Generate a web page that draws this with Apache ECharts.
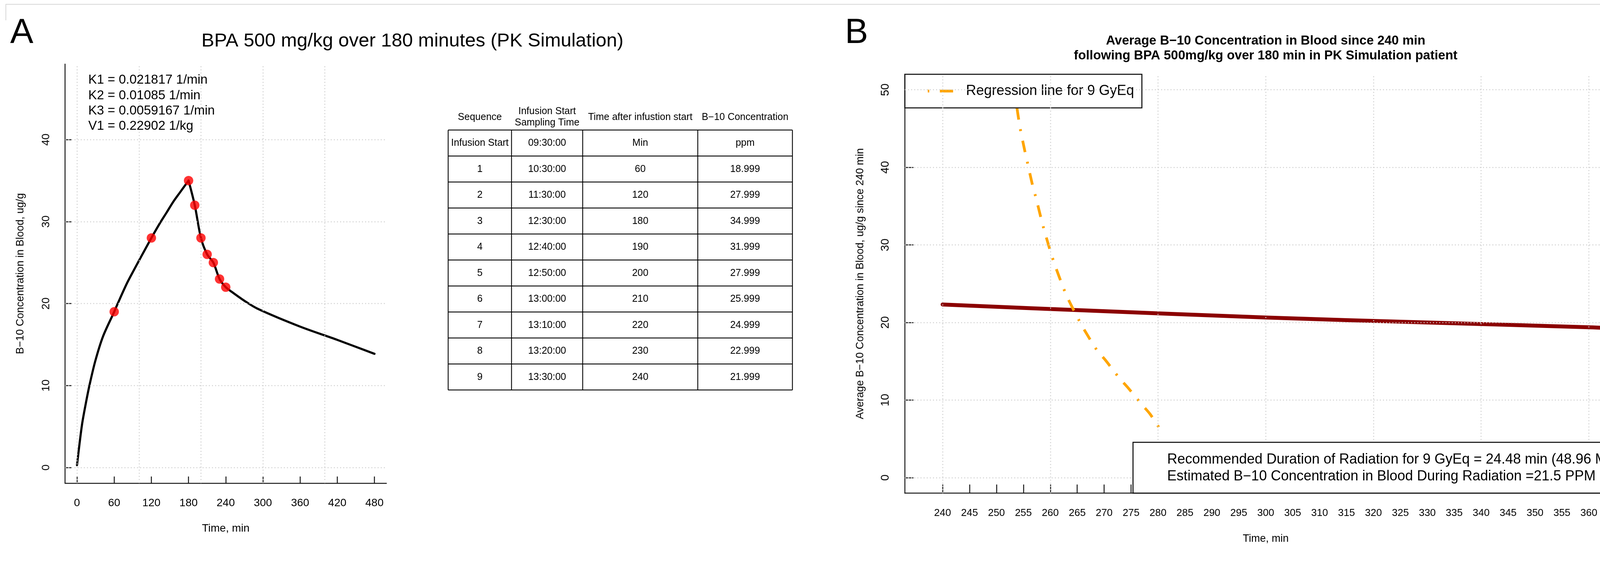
<!DOCTYPE html>
<html><head><meta charset="utf-8">
<script src="https://cdn.jsdelivr.net/npm/echarts@6/dist/echarts.min.js"></script>
<style>html,body{margin:0;padding:0;background:#fff;} #c{width:4240px;height:1494px;}</style>
</head><body><div id="c"></div>
<script>
const FONT = '"Liberation Sans", Arial, Helvetica, sans-serif';

// ---------- Panel A data ----------
const sampleSeq = ['1','2','3','4','5','6','7','8','9'];
const sampleClock = ['10:30:00','11:30:00','12:30:00','12:40:00','12:50:00','13:00:00','13:10:00','13:20:00','13:30:00'];
const sampleMin = [60,120,180,190,200,210,220,230,240];
const sampleConc = [18.999,27.999,34.999,31.999,27.999,25.999,24.999,22.999,21.999];
const riseT = [0, 8.0, 14.4, 20.0, 29.5, 42.0, 60, 65.7, 81.0, 92.6, 102.6, 120, 134.1, 144.7, 155.1, 165.7, 180];
const riseV = [0.3, 5.2, 7.9, 10.0, 13.0, 16.0, 19.0, 20.0, 22.54, 24.2, 25.6, 28.0, 29.85, 31.12, 32.39, 33.51, 35.0];
const fallT = [180, 190, 200, 210, 220, 230, 240, 249.7, 270.7, 291.7, 359.9, 419.6, 480];
const fallV = [35.0, 32.0, 28.0, 26.0, 25.0, 23.0, 22.0, 21.43, 20.31, 19.36, 17.19, 15.58, 13.87];
const paramLines = ['K1 = 0.021817 1/min','K2 = 0.01085 1/min','K3 = 0.0059167 1/min','V1 = 0.22902 1/kg'];
const xTicksA = [0,60,120,180,240,300,360,420,480];
const yTicksA = [0,10,20,30,40];
const xGridA = [0,100,200,300,400];
const tableHead = ['Sequence','Infusion Start\nSampling Time','Time after infustion start','B\u221210 Concentration'];
const tableUnits = ['Infusion Start','09:30:00','Min','ppm'];

// ---------- Panel B data ----------
const avgT = [240, 264.9, 300, 330, 360, 367];
const avgV = [22.32, 21.6, 20.64, 20.0, 19.38, 19.17];
const regT = [253.81, 254.39, 255.26, 255.75, 256.72, 257.30, 258.36, 258.94, 260.20, 260.87, 262.42, 263.28, 265.32, 266.38, 268.70, 270.15, 272.86, 274.31, 277.11, 278.56, 280.98];
const regV = [47.65, 45.09, 42.15, 40.63, 37.64, 36.17, 33.23, 31.73, 28.77, 27.37, 24.48, 23.08, 20.29, 18.97, 16.39, 15.22, 12.80, 11.68, 9.33, 8.16, 5.58];
const xTicksB = [240,245,250,255,260,265,270,275,280,285,290,295,300,305,310,315,320,325,330,335,340,345,350,355,360];
const yTicksB = [0,10,20,30,40,50];
const xGridB = [240,260,280,300,320,340,360];
const infoLines = ['Recommended Duration of Radiation for 9 GyEq = 24.48 min (48.96 MU)','Estimated B\u221210 Concentration in Blood During Radiation =21.5 PPM'];
const regName = 'Regression line for 9 GyEq';

const pairs = (xs, ys) => xs.map((x, i) => [x, ys[i]]);

const axisLineStyle = {color:'#1a1a1a', width:2.5};
const gridLineStyle = {color:'#cfcfcf', width:2.5, type:[2.5,5.5]};

function gridMark(hv, vv){
  return {silent:true, symbol:['none','none'], label:{show:false}, lineStyle:gridLineStyle,
    emphasis:{disabled:true}, animation:false,
    data:[...hv.map(v=>({yAxis:v})), ...vv.map(v=>({xAxis:v}))]};
}

// ---------- graphic (texts, table, boxes) ----------
const G = [];
function txt(x, y, text, size, o = {}){
  G.push({type:'text', x, y, z: o.z || 10, silent:true,
    style:{text, fill:'#000', fontSize:size, fontFamily:FONT, fontWeight:o.bold?'bold':'normal',
      align:o.align || 'center', verticalAlign:'middle', lineHeight:o.lh || size}});
}
function ln(x1, y1, x2, y2, w, c, z){
  G.push({type:'line', z: z || 10, silent:true, shape:{x1,y1,x2,y2}, style:{stroke:c || '#000', lineWidth:w || 2}});
}
// frame remnant
G.push({type:'polyline', silent:true, shape:{points:[[15,52],[15,11],[4240,11]]}, style:{stroke:'#d8d8d8', lineWidth:2, fill:null}});
// panel letters & titles
txt(26, 85, 'A', 89, {align:'left'});
txt(2163, 85, 'B', 89, {align:'left'});
txt(1056, 105.5, 'BPA 500 mg/kg over 180 minutes (PK Simulation)', 49);
txt(3240, 104.8, 'Average B\u221210 Concentration in Blood since 240 min', 33, {bold:true});
txt(3240, 142.8, 'following BPA 500mg/kg over 180 min in PK Simulation patient', 33, {bold:true});
paramLines.forEach((s, i) => txt(226, 205.3 + i * 39.2, s, 33, {align:'left'}));

// table
const colX = [1147.3, 1309.5, 1491.7, 1786.3, 2028.6];
const rowY0 = 332.7, rowH = 66.5;
const bodyRows = [tableUnits].concat(sampleSeq.map((s, i) => [s, sampleClock[i], String(sampleMin[i]), sampleConc[i].toFixed(3)]));
const tableBottom = rowY0 + rowH * bodyRows.length;
for (let r = 0; r <= bodyRows.length; r++) ln(colX[0], rowY0 + r * rowH, colX[4], rowY0 + r * rowH, 2.2);
colX.forEach(x => ln(x, rowY0, x, tableBottom, 2.2));
tableHead.forEach((h, c) => txt((colX[c] + colX[c + 1]) / 2, 300, h, 25, {lh:29}));
bodyRows.forEach((row, r) => row.forEach((cell, c) =>
  txt((colX[c] + colX[c + 1]) / 2, rowY0 + r * rowH + rowH / 2 + 0.6, cell, 25)));

// info box in panel B
G.push({type:'rect', z:100, silent:true, shape:{x:2900.5, y:1131.5, width:1263.5, height:130},
  style:{fill:'#fff', stroke:'#000', lineWidth:2.5}});
infoLines.forEach((s, i) => txt(2988, 1176.4 + i * 42.7, s, 36, {align:'left', z:101}));

const chart = echarts.init(document.getElementById('c'), null, {renderer:'canvas', width:4240, height:1494});
const option = {
  animation:false,
  backgroundColor:'#fff',
  textStyle:{fontFamily:FONT, color:'#000'},
  grid:[
    {left:166.7, top:164, width:822.4, height:1072},
    {left:2316.5, top:190, width:1847.5, height:1071.5}
  ],
  legend:{
    show:true, data:[regName], left:2316.5, top:190, orient:'horizontal',
    padding:[25,20,25,55], itemWidth:93, itemHeight:36, itemGap:0,
    backgroundColor:'#fff', borderColor:'#000', borderWidth:2.5, borderRadius:0,
    selectedMode:false,
    textStyle:{fontSize:36, color:'#000', fontFamily:FONT},
    itemStyle:{opacity:0, borderWidth:0},
    lineStyle:{type:[4,27,34,40], width:7, color:'#FFA500', cap:'butt', opacity:1}
  },
  xAxis:[
    {gridIndex:0, type:'value', min:-19.2, max:499.2,
      name:'Time, min', nameLocation:'middle', nameGap:102,
      nameTextStyle:{fontSize:28, color:'#000', fontFamily:FONT},
      axisLine:{show:true, onZero:false, lineStyle:axisLineStyle},
      axisTick:{show:true, inside:true, length:17, lineStyle:axisLineStyle, customValues:xTicksA},
      axisLabel:{show:true, customValues:xTicksA, fontSize:28, margin:37, color:'#000', fontFamily:FONT},
      splitLine:{show:false}},
    {gridIndex:1, type:'value', min:233, max:367,
      name:'Time, min', nameLocation:'middle', nameGap:104,
      nameTextStyle:{fontSize:27, color:'#000', fontFamily:FONT},
      axisLine:{show:true, onZero:false, lineStyle:axisLineStyle},
      axisTick:{show:true, inside:true, length:22, lineStyle:axisLineStyle, customValues:xTicksB},
      axisLabel:{show:true, customValues:xTicksB, fontSize:26, margin:38, color:'#000', fontFamily:FONT},
      splitLine:{show:false}}
  ],
  yAxis:[
    {gridIndex:0, type:'value', min:-1.907, max:49.21,
      name:'B\u221210 Concentration in Blood, ug/g', nameLocation:'middle', nameGap:101, nameRotate:90,
      nameTextStyle:{fontSize:27, color:'#000', fontFamily:FONT},
      axisLine:{show:true, onZero:false, lineStyle:axisLineStyle},
      axisTick:{show:true, inside:true, length:16, lineStyle:axisLineStyle, customValues:yTicksA},
      axisLabel:{show:true, customValues:yTicksA, rotate:90, fontSize:28, margin:34, color:'#000', fontFamily:FONT},
      splitLine:{show:false}},
    {gridIndex:1, type:'value', min:-2, max:52,
      name:'Average B\u221210 Concentration in Blood, ug/g since 240 min', nameLocation:'middle', nameGap:100.5, nameRotate:90,
      nameTextStyle:{fontSize:27, color:'#000', fontFamily:FONT},
      axisLine:{show:true, onZero:false, lineStyle:axisLineStyle},
      axisTick:{show:true, inside:true, length:22, lineStyle:axisLineStyle, customValues:yTicksB},
      axisLabel:{show:true, customValues:yTicksB, rotate:90, fontSize:29, margin:35.5, color:'#000', fontFamily:FONT},
      splitLine:{show:false}}
  ],
  series:[
    {type:'line', xAxisIndex:0, yAxisIndex:0, data:[], silent:true, markLine:gridMark(yTicksA, xGridA)},
    {type:'line', name:'PK rise', xAxisIndex:0, yAxisIndex:0, data:pairs(riseT, riseV), smooth:0.3, symbol:'none', showSymbol:false, silent:true,
      lineStyle:{color:'#000', width:5.5, cap:'round', join:'round'}},
    {type:'line', name:'PK fall', xAxisIndex:0, yAxisIndex:0, data:pairs(fallT, fallV), smooth:0.3, symbol:'none', showSymbol:false, silent:true,
      lineStyle:{color:'#000', width:5.5, cap:'round', join:'round'}},
    {type:'scatter', name:'Samples', xAxisIndex:0, yAxisIndex:0, data:pairs(sampleMin, sampleConc), symbol:'circle', symbolSize:24, silent:true,
      itemStyle:{color:'#FF0000'}, z:5},
    {type:'line', xAxisIndex:1, yAxisIndex:1, data:[], silent:true, markLine:gridMark(yTicksB, xGridB)},
    {type:'line', name:'Average', xAxisIndex:1, yAxisIndex:1, data:pairs(avgT, avgV), smooth:0.4, symbol:'none', showSymbol:false, silent:true,
      lineStyle:{color:'#8B0000', width:10, cap:'round', join:'round'}},
    {type:'line', name:regName, xAxisIndex:1, yAxisIndex:1, data:pairs(regT, regV), smooth:0.3, symbol:'none', showSymbol:false, silent:true,
      itemStyle:{color:'#FFA500'},
      lineStyle:{color:'#FFA500', width:7, type:[30,25,5,25], cap:'butt'}}
  ],
  graphic:{elements:G}
};
chart.setOption(option);
</script></body></html>
